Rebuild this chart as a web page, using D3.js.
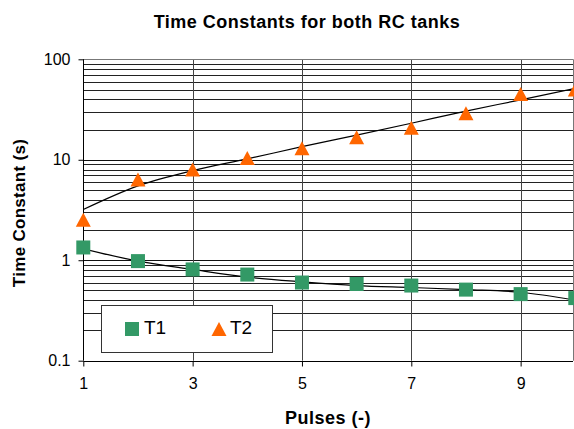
<!DOCTYPE html>
<html><head><meta charset="utf-8">
<script src="https://cdn.jsdelivr.net/npm/d3@7"></script>
<style>body{margin:0;background:#fff}svg{display:block;font-family:"Liberation Sans",Arial,sans-serif}</style>
</head><body>
<svg id="c" width="574" height="429"></svg>
<script>
const pulses = [1,2,3,4,5,6,7,8,9,10];
const t1 = [1.34,0.98,0.81,0.72,0.60,0.58,0.56,0.51,0.46,0.42];
const t2 = [2.5,6.3,7.9,10.3,12.9,16.6,20.6,28.7,44.7,49.5];
const t1Trend = [1.30,0.98,0.81,0.68,0.61,0.56,0.535,0.51,0.48,0.40];
const t2Trend = [3.2,5.5,7.8,10.2,13.5,17.6,23.1,30.5,39.5,51.5];
const xTicks = [1,3,5,7,9];
const yTicks = [0.1,1,10,100];
const yTickLabels = ["0.1","1","10","100"];

const svg = d3.select("#c");
const x = d3.scaleLinear().domain([1,10]).range([83.3,575.3]);
const y = d3.scaleLog().domain([0.1,100]).range([360.7,59.3]);
const pLeft = 83.3, pRight = 573, pTop = 59.3, pBottom = 360.7;
const green = "#339966", orange = "#ff6600";

// minor horizontal gridlines
const minor = [];
[0.1,1,10].forEach(d => { for (let k=2;k<=9;k++) minor.push(d*k); });
svg.append("g").selectAll("line").data(minor.concat([1,10,100])).join("line")
  .attr("x1",pLeft).attr("x2",pRight)
  .attr("y1",d=>Math.round(y(d))+0.5).attr("y2",d=>Math.round(y(d))+0.5)
  .attr("stroke",d=>([1,10,100].includes(d)?"#111":"#222")).attr("stroke-width",1);
// vertical gridlines
svg.append("g").selectAll("line").data(xTicks.slice(1)).join("line")
  .attr("x1",d=>Math.round(x(d))+0.5).attr("x2",d=>Math.round(x(d))+0.5)
  .attr("y1",pTop).attr("y2",pBottom).attr("stroke","#444");
// right / top border
svg.append("line").attr("x1",pRight+0.5).attr("x2",pRight+0.5).attr("y1",pTop).attr("y2",pBottom).attr("stroke","#777");
svg.append("line").attr("x1",pLeft).attr("x2",pRight).attr("y1",Math.round(pTop)+0.5).attr("y2",Math.round(pTop)+0.5).attr("stroke","#777");

// axes
const xAxis = d3.axisBottom(x).tickValues(xTicks).tickSize(5).tickPadding(11).tickFormat(d3.format("d"));
const gx = svg.append("g").attr("transform",`translate(0,${Math.round(pBottom)+0.5})`).call(xAxis);
gx.select(".domain").attr("d",`M${pLeft},0H${pRight}`).attr("stroke","#000");
gx.selectAll(".tick line").attr("stroke","#000");
gx.selectAll("text").attr("font-size",16).attr("fill","#000").attr("font-family","Liberation Sans, Arial");

const yAxis = d3.axisLeft(y).tickValues(yTicks).tickSize(5).tickPadding(8).tickFormat((d,i)=>yTickLabels[i]);
const gy = svg.append("g").attr("transform",`translate(${Math.round(pLeft)+0.5},0)`).call(yAxis);
gy.select(".domain").attr("d",`M0,${pTop}V${pBottom}`).attr("stroke","#000");
gy.selectAll(".tick line").attr("stroke","#000");
gy.selectAll("text").attr("font-size",16).attr("fill","#000").attr("font-family","Liberation Sans, Arial");

// trend lines
const line = d3.line().x((d,i)=>x(pulses[i])).y(d=>y(d)).curve(d3.curveMonotoneX);
svg.append("path").attr("d",line(t2Trend)).attr("fill","none").attr("stroke","#000").attr("stroke-width",1.2);
svg.append("path").attr("d",line(t1Trend)).attr("fill","none").attr("stroke","#000").attr("stroke-width",1.2);

// markers
const triPath = "M0,-7.5L7.5,6.5L-7.5,6.5Z";
svg.append("g").selectAll("rect").data(t1).join("rect")
  .attr("x",(d,i)=>x(pulses[i])-7).attr("y",d=>y(d)-7).attr("width",14).attr("height",14)
  .attr("fill",green);
svg.append("g").selectAll("path").data(t2).join("path")
  .attr("transform",(d,i)=>`translate(${x(pulses[i])},${y(d)})`).attr("d",triPath)
  .attr("fill",orange);

// legend
svg.append("rect").attr("x",101.5).attr("y",305.5).attr("width",171).attr("height",47)
  .attr("fill","#fff").attr("stroke","#333");
svg.append("rect").attr("x",125).attr("y",322).attr("width",14).attr("height",14).attr("fill",green);
svg.append("text").attr("x",144).attr("y",334).attr("font-size",19).text("T1");
svg.append("path").attr("transform","translate(219,329.5)").attr("d",triPath).attr("fill",orange);
svg.append("text").attr("x",230).attr("y",334).attr("font-size",19).text("T2");

// titles
svg.append("text").attr("x",307).attr("y",28).attr("text-anchor","middle").attr("letter-spacing",0.5)
  .attr("font-size",18).attr("font-weight","bold").text("Time Constants for both RC tanks");
svg.append("text").attr("x",328).attr("y",424).attr("text-anchor","middle").attr("letter-spacing",0.5)
  .attr("font-size",18).attr("font-weight","bold").text("Pulses (-)");
svg.append("text").attr("transform","translate(25,213) rotate(-90)").attr("text-anchor","middle").attr("letter-spacing",0.3)
  .attr("font-size",17).attr("font-weight","bold").text("Time Constant (s)");
</script>
</body></html>
